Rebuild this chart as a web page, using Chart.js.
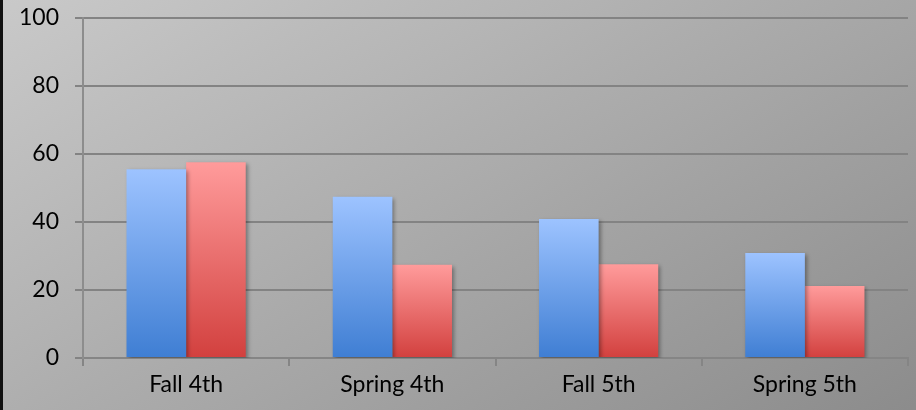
<!DOCTYPE html>
<html>
<head>
<meta charset="utf-8">
<script src="https://cdn.jsdelivr.net/npm/chart.js@4/dist/chart.umd.min.js"></script>
<style>
  html, body { margin: 0; padding: 0; }
  #wrap { width: 916px; height: 410px; position: relative; }
</style>
</head>
<body>
<div id="wrap"><canvas id="chartTerms"></canvas></div>
<script>
const categories = ['Fall 4th', 'Spring 4th', 'Fall 5th', 'Spring 5th'];
const blueValues = [55.5, 47.4, 40.9, 30.9];
const redValues = [57.6, 27.4, 27.6, 21.2];
const yTicks = [0, 20, 40, 60, 80, 100];

// vertical gradient per bar, light at the top, dark at the base
function barGradient(top, bottom) {
    return (ctx) => {
        const chart = ctx.chart;
        const y = chart.scales && chart.scales.y;
        if (!y || ctx.raw === undefined) return bottom;
        const y0 = y.getPixelForValue(ctx.raw);
        const y1 = y.getPixelForValue(0);
        if (!isFinite(y0) || !isFinite(y1) || y0 === y1) return bottom;
        const g = chart.ctx.createLinearGradient(0, y0, 0, y1);
        g.addColorStop(0, top);
        g.addColorStop(1, bottom);
        return g;
    };
}

const backdrop = {
    id: 'backdrop',
    beforeDraw(chart) {
        const { ctx, width, height } = chart;
        ctx.save();
        const g = ctx.createLinearGradient(0, 0, 416, 702);
        g.addColorStop(0, '#c9c9c9');
        g.addColorStop(1, '#8c8c8c');
        ctx.fillStyle = g;
        ctx.fillRect(0, 0, width, height);
        ctx.fillStyle = '#111111';
        ctx.fillRect(0, 0, 3, height);
        ctx.restore();
    },
    beforeDatasetDraw(chart) {
        const ctx = chart.ctx;
        ctx.save();
        ctx.shadowColor = 'rgba(0,0,0,0.35)';
        ctx.shadowBlur = 4;
        ctx.shadowOffsetX = 2;
        ctx.shadowOffsetY = 2;
    },
    afterDatasetDraw(chart) {
        chart.ctx.restore();
    }
};

const tickFont = { family: 'Lato, "Open Sans", sans-serif', size: 23 };

new Chart(document.getElementById('chartTerms'), {
    type: 'bar',
    data: {
        labels: categories,
        datasets: [{
            label: 'Series 1',
            data: blueValues,
            backgroundColor: barGradient('#9dc3ff', '#3f7ed3'),
            borderWidth: 0
        }, {
            label: 'Series 2',
            data: redValues,
            backgroundColor: barGradient('#ff9b9b', '#d2403e'),
            borderWidth: 0
        }]
    },
    options: {
        responsive: true,
        maintainAspectRatio: false,
        animation: false,
        layout: { padding: { top: 18, right: 8, left: 0, bottom: 0 } },
        datasets: {
            bar: { categoryPercentage: 0.578, barPercentage: 1 }
        },
        plugins: {
            legend: { display: false },
            tooltip: { enabled: false }
        },
        scales: {
            x: {
                grid: {
                    drawOnChartArea: false,
                    drawTicks: true,
                    tickLength: 8,
                    color: '#858585',
                    lineWidth: 2
                },
                border: { color: '#858585', width: 2 },
                ticks: { color: '#000', font: tickFont, padding: 5 },
                afterFit(scale) {
                    scale.height = 52;
                    scale.paddingLeft = 0;
                    scale.paddingRight = 0;
                }
            },
            y: {
                min: 0,
                max: 100,
                afterBuildTicks(scale) {
                    scale.ticks = yTicks.map(v => ({ value: v }));
                },
                grid: {
                    color: '#838383',
                    lineWidth: 2,
                    tickLength: 8
                },
                border: { color: '#8d8d8d', width: 2 },
                ticks: { color: '#000', font: tickFont, padding: 16 },
                afterFit(scale) {
                    scale.width = 83;
                    scale.paddingTop = 0;
                    scale.paddingBottom = 0;
                }
            }
        }
    },
    plugins: [backdrop]
});
</script>
</body>
</html>
